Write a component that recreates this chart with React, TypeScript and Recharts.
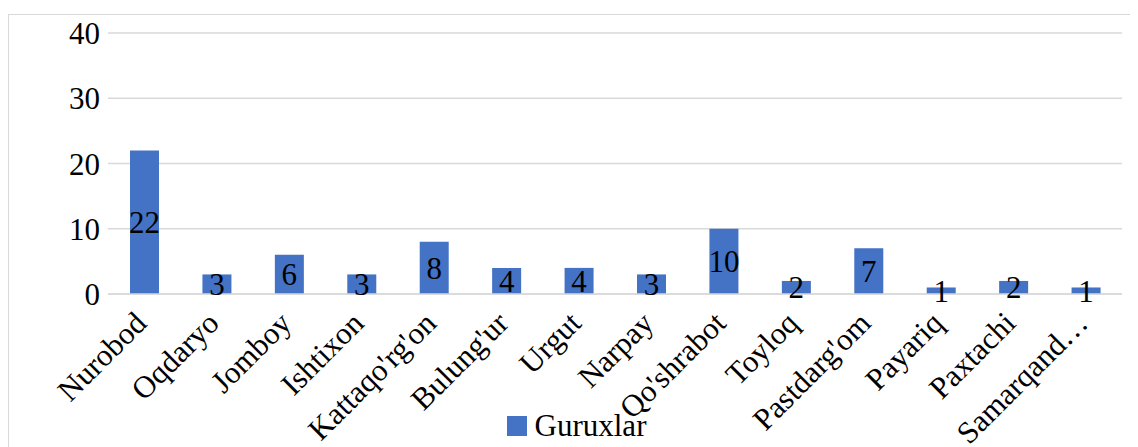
import { BarChart, Bar, XAxis, YAxis, CartesianGrid, Legend, LabelList } from 'recharts';

const districts = [
  'Nurobod', 'Oqdaryo', 'Jomboy', 'Ishtixon', "Kattaqo'rg'on", "Bulung'ur", 'Urgut',
  'Narpay', "Qo'shrabot", 'Toyloq', "Pastdarg'om", 'Payariq', 'Paxtachi', 'Samarqand…',
];
const groups = [22, 3, 6, 3, 8, 4, 4, 3, 10, 2, 7, 1, 2, 1];
const yTicks = [0, 10, 20, 30, 40];

const data = districts.map((name, i) => ({ name, Guruxlar: groups[i] }));

const FONT = 'Liberation Serif';
const BLUE = '#4472C4';
const GRID = '#d9d9d9';
const textStyle = { fontFamily: FONT, fontSize: 31 };

function CategoryTick(props: any) {
  const { x, y, payload } = props;
  const ax = x + 4;
  const ay = y + 23;
  return (
    <text
      x={ax}
      y={ay}
      transform={`rotate(-45, ${ax}, ${ay})`}
      textAnchor="end"
      style={textStyle}
      fill="#000"
    >
      {payload.value}
    </text>
  );
}

function LegendBox() {
  return (
    <div style={{ display: 'flex', justifyContent: 'center', alignItems: 'center', paddingLeft: 22, fontFamily: FONT, fontSize: 31, lineHeight: '34px' }}>
      <span style={{ display: 'inline-block', width: 20, height: 20, background: BLUE, marginRight: 8 }} />
      <span style={{ color: '#000' }}>Guruxlar</span>
    </div>
  );
}

export default function App() {
  return (
    <div style={{ marginTop: 6, width: 1130, height: 433, borderLeft: `1px solid ${GRID}`, borderTop: `1px solid ${GRID}`, background: '#fff', fontFamily: FONT }}>
      <BarChart width={1129} height={432} data={data} margin={{ top: 18, right: 16, left: 0, bottom: 4 }} style={{ fontFamily: FONT }}>
        <CartesianGrid vertical={false} stroke={GRID} strokeWidth={1.5} />
        <XAxis
          dataKey="name"
          interval={0}
          height={115}
          axisLine={{ stroke: GRID, strokeWidth: 1.5 }}
          tickLine={false}
          tick={<CategoryTick />}
        />
        <YAxis
          domain={[0, 40]}
          ticks={yTicks}
          width={99}
          axisLine={false}
          tickLine={false}
          tick={{ fontSize: 31, fill: '#000', style: textStyle }}
        />
        <Legend verticalAlign="bottom" content={<LegendBox />} />
        <Bar dataKey="Guruxlar" fill={BLUE} barSize={29} isAnimationActive={false}>
          <LabelList dataKey="Guruxlar" position="center" fill="#000" fontSize={31} style={textStyle} />
        </Bar>
      </BarChart>
    </div>
  );
}
